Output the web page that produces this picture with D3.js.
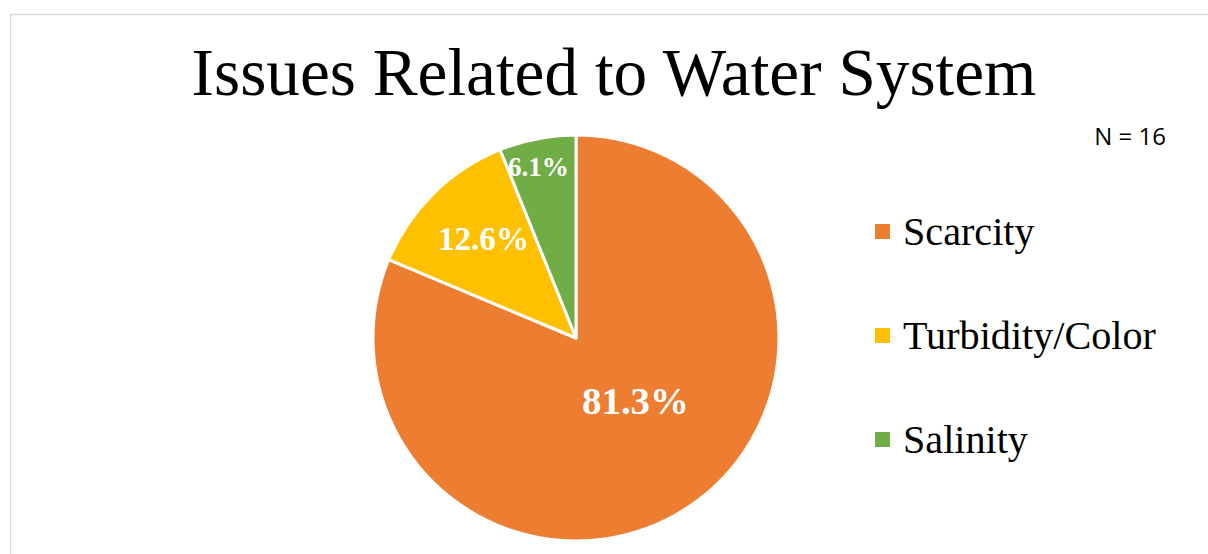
<!DOCTYPE html>
<html>
<head>
<meta charset="utf-8">
<script src="https://cdn.jsdelivr.net/npm/d3@7"></script>
<style>
  body { margin: 0; background: #fff; }
  svg { display: block; }
</style>
</head>
<body>
<div id="chart"></div>
<script>
// datos del grafico
const categorias = ["Scarcity", "Turbidity/Color", "Salinity"];
const valores = [81.3, 12.6, 6.1];
const colores = ["#ed7d31", "#ffc000", "#70ad47"];
const titulo = "Issues Related to Water System";
const nota = "N = 16";

pastel();
function pastel(){
	var ancho = 1208, alto = 554;
	var cx = 576, cy = 338, radio = 203;

	var svg = d3.select("#chart").append("svg")
		.attr("width", ancho)
		.attr("height", alto);

	// marco del area del grafico
	svg.append("rect")
		.attr("x", 10.5).attr("y", 14.5)
		.attr("width", ancho + 20).attr("height", alto + 20)
		.style("fill", "#fff")
		.style("stroke", "#d9d9d9")
		.style("stroke-width", "1.5px");

	var serif = "'Liberation Serif', 'DejaVu Serif', serif";

	// ajusta el tamaño de letra para un ancho dado
	function ajustar(sel, anchoObjetivo){
		var w = sel.node().getComputedTextLength();
		var fs = parseFloat(sel.style("font-size"));
		sel.style("font-size", (fs * anchoObjetivo / w) + "px");
	}

	var t = svg.append("text")
		.attr("x", 614).attr("y", 95)
		.attr("text-anchor", "middle")
		.style("font-family", serif)
		.style("font-size", "60px")
		.style("fill", "#000")
		.text(titulo);
	ajustar(t, 845);

	svg.append("text")
		.attr("x", 1166).attr("y", 145)
		.attr("text-anchor", "end")
		.style("font-family", "'Open Sans', 'Liberation Sans', sans-serif")
		.style("font-size", "24px")
		.style("fill", "#000")
		.text(nota);

	var data = categorias.map((c, i) => ({cat: c, valor: valores[i], color: colores[i]}));

	var pie = d3.pie().sort(null).value(d => d.valor);
	var arco = d3.arc().innerRadius(0).outerRadius(radio);

	var g = svg.append("g").attr("transform", `translate(${cx},${cy})`);

	var arcos = pie(data);

	g.selectAll(".rebanada")
		.data(arcos)
		.enter()
		.append("path")
		.attr("class", "rebanada")
		.attr("d", arco)
		.style("fill", d => d.data.color)
		.style("stroke", "#fff")
		.style("stroke-width", "3px")
		.style("stroke-linejoin", "round");

	// posicion de etiquetas: fraccion del radio, desvio de angulo (grados), ancho
	var fraccion = [0.425, 0.669, 0.862];
	var desvio = [-9.9, 1.7, -1.4];
	var anchos = [107, 91, 61];

	var etiquetas = g.selectAll(".etiqueta")
		.data(arcos)
		.enter()
		.append("text")
		.attr("class", "etiqueta")
		.attr("transform", (d, i) => {
			var a = (d.startAngle + d.endAngle) / 2 + desvio[i] * Math.PI / 180;
			var r = radio * fraccion[i];
			return `translate(${Math.sin(a) * r},${-Math.cos(a) * r})`;
		})
		.attr("text-anchor", "middle")
		.attr("dy", "0.34em")
		.style("font-family", serif)
		.style("font-weight", "bold")
		.style("font-size", "30px")
		.style("fill", "#fff")
		.text(d => d.data.valor.toFixed(1) + "%");
	etiquetas.each(function(d, i){ ajustar(d3.select(this), anchos[i]); });

	// leyenda
	var y = d3.scalePoint().domain(categorias).range([231, 439]);

	var ley = svg.selectAll(".leyenda")
		.data(data)
		.enter()
		.append("g")
		.attr("class", "leyenda")
		.attr("transform", d => `translate(875,${y(d.cat)})`);

	ley.append("rect")
		.attr("x", 0).attr("y", -7)
		.attr("width", 15).attr("height", 15)
		.style("fill", d => d.color);

	var textos = ley.append("text")
		.attr("x", 28).attr("y", 0)
		.attr("dy", "0.35em")
		.style("font-family", serif)
		.style("font-size", "32px")
		.style("fill", "#000")
		.text(d => d.cat);

	// ajuste comun segun "Turbidity/Color"
	var nodo = textos.filter(d => d.cat == "Turbidity/Color");
	var w = nodo.node().getComputedTextLength();
	textos.style("font-size", (32 * 253 / w) + "px");
}
</script>
</body>
</html>
